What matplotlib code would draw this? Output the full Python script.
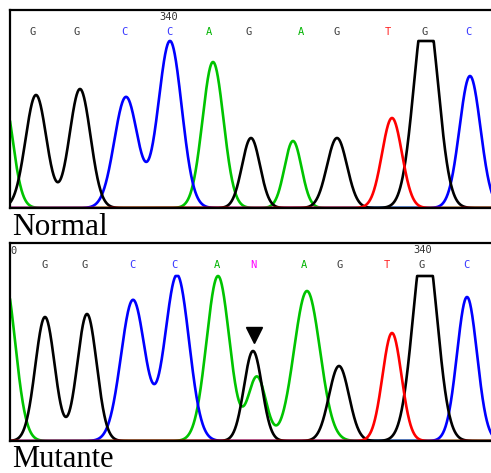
import numpy as np
import matplotlib
matplotlib.use("Agg")
import matplotlib.pyplot as plt

# peak data (position, height, width) per base channel
# top trace: Normal
top_bases = ["G", "G", "C", "C", "A", "G", "A", "G", "T", "G", "C"]
top_label_x = [33, 77, 124, 169, 209, 249, 301, 337, 388, 425, 468]
top_pos = [2, 36, 80, 126, 170, 213, 251, 293, 337, 392, 426, 470]
top_chan = ["A", "G", "G", "C", "C", "A", "G", "A", "G", "T", "G", "C"]
top_height = [120, 113, 119, 111, 167, 146, 70, 67, 70, 90, 205, 132]
top_width = [10, 10.5, 10.5, 11.7, 11.7, 10.5, 9, 8.5, 10, 10, 12, 10.5]
top_clip = 167

# bottom trace: Mutante
bot_bases = ["G", "G", "C", "C", "A", "N", "A", "G", "T", "G", "C"]
bot_label_x = [45, 85, 132, 174, 217, 253, 304, 340, 387, 422, 466]
bot_pos = [4, 45, 87, 133, 177, 218, 253, 257, 307, 339, 392, 425, 467]
bot_chan = ["A", "G", "G", "C", "C", "A", "G", "A", "A", "G", "T", "G", "C"]
bot_height = [165, 124, 127, 141, 166, 165, 90, 64, 150, 75, 108, 205, 144]
bot_width = [11, 9.7, 9.7, 12, 12, 11.5, 9, 9, 13, 10, 9.5, 12, 10]
bot_clip = 165

trace_col = {"A": "#00c400", "C": "#0000ff", "G": "#000000", "T": "#ff0000"}
label_col = {"A": "#00b400", "C": "#3a3aff", "G": "#404040", "T": "#ff2020", "N": "#ff00ff"}

W, H = 491, 473
fig = plt.figure(figsize=(W / 100, H / 100), dpi=100)
fig.patch.set_facecolor("white")


def panel(top, bottom, pos, chan, height, width, clip, bases, label_x, marker_text, marker_x):
    ax = fig.add_axes([10 / W, 1 - bottom / H, (500 - 10) / W, (bottom - top) / H])
    x = np.linspace(10, 500, 2000)
    for c in ["A", "C", "G", "T"]:
        y = np.zeros_like(x)
        for p, ch, h, s in zip(pos, chan, height, width):
            if ch == c:
                y += h * np.exp(-(x - p) ** 2 / (2 * s ** 2))
        y = np.minimum(y, clip)
        ax.plot(x, y, color=trace_col[c], lw=1.9, solid_capstyle="round")
    ax.set_xlim(10, 500)
    ax.set_ylim(0, bottom - top)
    for b, lx in zip(bases, label_x):
        ax.text(lx, 176, b, color=label_col[b], ha="center", va="center",
                fontsize=7.5, family="DejaVu Sans Mono")
    ax.text(marker_x, 191, marker_text, color="#333333", ha="center", va="center",
            fontsize=7.5, family="DejaVu Sans Mono")
    ax.set_xticks([])
    ax.set_yticks([])
    ax.spines["right"].set_visible(False)
    for s in ["top", "left", "bottom"]:
        ax.spines[s].set_linewidth(1.6)
    return ax


ax1 = panel(10, 208, top_pos, top_chan, top_height, top_width, top_clip,
            top_bases, top_label_x, "340", 169)
ax2 = panel(243, 441, bot_pos, bot_chan, bot_height, bot_width, bot_clip,
            bot_bases, bot_label_x, "340", 423)
ax2.text(10.5, 190, "0", color="#333333", ha="left", va="center",
         fontsize=7.5, family="DejaVu Sans Mono")
# arrow over the mixed peak
ax2.plot([254], [106], marker="v", color="black", markersize=12, clip_on=False)

fig.text(12 / W, 1 - 235 / H, "Normal", family="Liberation Serif", fontsize=22.5,
         va="baseline", ha="left")
fig.text(12 / W, 1 - 467 / H, "Mutante", family="Liberation Serif", fontsize=22,
         va="baseline", ha="left")

fig.savefig("out.png", dpi=100, facecolor="white")
